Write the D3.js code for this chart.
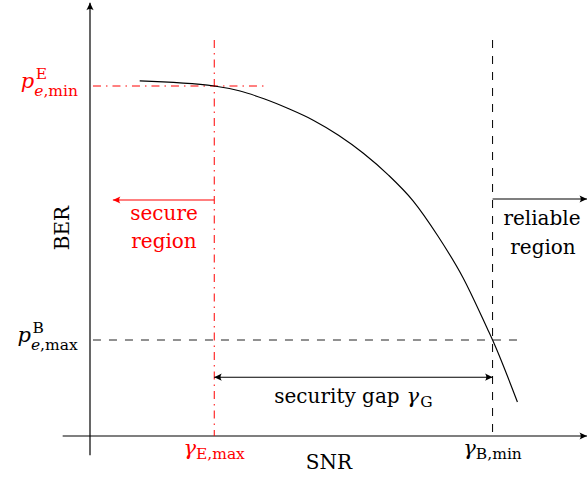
<!DOCTYPE html>
<html>
<head>
<meta charset="utf-8">
<script src="https://cdn.jsdelivr.net/npm/d3@7"></script>
<style>
  html, body { margin: 0; padding: 0; background: #fff; }
  svg { display: block; }
</style>
</head>
<body>
<svg id="chart" width="587" height="477"></svg>
<script>
// BER versus SNR curve (schematic units)
const snr = [1.0, 2.5, 3.0, 3.5, 4.0, 4.5, 5.0, 5.5, 6.0, 6.5, 7.0, 7.5, 8.0, 8.1, 8.6];
const ber = [8.88, 8.75, 8.63, 8.43, 8.18, 7.89, 7.52, 7.07, 6.53, 5.88, 5.0, 3.97, 2.67, 2.4, 0.85];

// Operating thresholds
const gammaE = 2.5;   // γ_E,max
const gammaB = 8.1;   // γ_B,min
const pE = 8.75;      // p^E_e,min
const pB = 2.4;       // p^B_e,max

// Label texts
const xTickSym = ["γ", "γ"];
const xTickSub = ["E,max", "B,min"];
const yTickSup = ["E", "B"];
const yTickSub = ["min", "max"];
const regionLabels = [["secure", "region"], ["reliable", "region"]];
const gapLabel = "security gap";
const axisTitles = ["SNR", "BER"];

const RED = "#ff0000";
const FS = 20, FS_SMALL = 15.5;
const FONT = "'DejaVu Serif', serif";

const svg = d3.select("#chart").attr("font-family", FONT);
const x = d3.scaleLinear().domain([0, 10]).range([90, 587]);
const y = d3.scaleLinear().domain([0, 10]).range([436, 36]);

// Arrow heads
const defs = svg.append("defs");
function arrowMarker(id, color) {
  defs.append("marker")
    .attr("id", id)
    .attr("markerUnits", "userSpaceOnUse")
    .attr("viewBox", "-8 -5 9 10")
    .attr("refX", 0).attr("refY", 0)
    .attr("markerWidth", 9).attr("markerHeight", 10)
    .attr("orient", "auto-start-reverse")
    .append("path")
    .attr("d", "M0,0 L-7.5,-3.6 Q-5,0 -7.5,3.6 Z")
    .attr("fill", color);
}
arrowMarker("arrK", "#000");
arrowMarker("arrR", RED);

function seg(x1, y1, x2, y2, opts) {
  const l = svg.append("line")
    .attr("x1", x1).attr("y1", y1).attr("x2", x2).attr("y2", y2)
    .attr("stroke", opts.color || "#000")
    .attr("stroke-width", opts.width || 1)
    .attr("fill", "none");
  if (opts.dash) l.attr("stroke-dasharray", opts.dash);
  if (opts.end) l.attr("marker-end", `url(#${opts.end})`);
  if (opts.start) l.attr("marker-start", `url(#${opts.start})`);
  return l;
}

const DASH = "8,8";
const DASHDOT = "8,5,1.5,5";

// Axes
seg(x(-0.55), y(0), x(10), y(0), { width: 1.2, end: "arrK" });
seg(x(0), y(-0.48), x(0), y(10.83), { width: 1.2, end: "arrK" });

// Threshold guides
seg(x(0.06), y(pE), x(3.55), y(pE), { color: RED, dash: DASHDOT, width: 1 });
seg(x(gammaE), y(9.9), x(gammaE), y(0), { color: RED, dash: DASHDOT, width: 1 });
seg(x(gammaB), y(9.9), x(gammaB), y(0), { dash: DASH, width: 1 });
seg(x(0.06), y(pB), x(8.6), y(pB), { dash: DASH, width: 1, color: "#222" });

// Curve
const line = d3.line()
  .x((d, i) => x(snr[i]))
  .y(d => y(d))
  .curve(d3.curveMonotoneX);
svg.append("path")
  .attr("d", line(ber))
  .attr("fill", "none")
  .attr("stroke", "#000")
  .attr("stroke-width", 1.15);

// Region arrows
const secureY = 5.9, reliableY = 5.925, gapY = 1.47;
seg(x(gammaE), y(secureY), x(0.46), y(secureY), { color: RED, width: 1.1, end: "arrR" });
seg(x(gammaB), y(reliableY), x(10), y(reliableY), { width: 1.1, end: "arrK" });
seg(x(gammaE), y(gapY), x(gammaB), y(gapY), { width: 1.1, start: "arrK", end: "arrK" });

// Plain text helper
function txt(str, px, py, color, anchor, size) {
  return svg.append("text")
    .attr("x", px).attr("y", py)
    .attr("font-family", FONT)
    .attr("fill", color || "#000")
    .attr("text-anchor", anchor || "middle")
    .attr("font-size", size || FS)
    .text(str);
}

// Math label in one text element: main symbol, optional superscript, subscript
function mathLabel(px, py, main, sup, sub, color, anchor, supDy, subDy) {
  const t = svg.append("text").attr("x", 0).attr("y", 0)
    .attr("font-family", FONT).attr("fill", color);
  const m = t.append("tspan").attr("font-size", FS + 1).attr("font-style", "italic").text(main);
  const w = m.node().getComputedTextLength();
  if (sup) {
    t.append("tspan").attr("x", w + 1.5).attr("y", supDy)
      .attr("font-size", FS_SMALL).text(sup);
  }
  let first = true;
  sub.forEach(([s, it]) => {
    const ts = t.append("tspan").attr("font-size", FS_SMALL)
      .attr("font-style", it ? "italic" : "normal").text(s);
    if (first) { ts.attr("x", w).attr("y", subDy); first = false; }
  });
  const bb = t.node().getBBox();
  let tx = px;
  if (anchor === "end") tx = px - (bb.x + bb.width);
  else if (anchor === "middle") tx = px - (bb.x + bb.width / 2);
  t.attr("transform", `translate(${tx},${py})`);
  return t;
}

// y-axis threshold labels
mathLabel(78, y(pE) + 2, "p", yTickSup[0], [["e", true], [",", false], [yTickSub[0], false]], RED, "end", -9, 8);
mathLabel(78, y(pB) + 2, "p", yTickSup[1], [["e", true], [",", false], [yTickSub[1], false]], "#000", "end", -9, 8);

// x-axis threshold labels
mathLabel(x(gammaE), 455, xTickSym[0], null, [[xTickSub[0], false]], RED, "middle", 0, 4);
mathLabel(x(gammaB), 455, xTickSym[1], null, [[xTickSub[1], false]], "#000", "middle", 0, 4);

// Axis titles
txt(axisTitles[0], 329, 469);
svg.append("text")
  .attr("transform", `translate(69,228) rotate(-90)`)
  .attr("font-family", FONT)
  .attr("text-anchor", "middle")
  .attr("font-size", FS)
  .text(axisTitles[1]);

// Region labels
txt(regionLabels[0][0], 164, 220, RED);
txt(regionLabels[0][1], 164, 248, RED);
txt(regionLabels[1][0], 542, 225);
txt(regionLabels[1][1], 543, 254);

// Security gap label
(function () {
  const t = svg.append("text").attr("x", 0).attr("y", 0)
    .attr("font-family", FONT).attr("font-size", FS);
  const a = t.append("tspan").text(gapLabel);
  const w = a.node().getComputedTextLength() + 7;
  const gm = t.append("tspan").attr("x", w).attr("font-size", FS + 1).attr("font-style", "italic").text("γ");
  const w2 = gm.node().getComputedTextLength();
  t.append("tspan").attr("x", w + w2 + 1).attr("y", 4).attr("font-size", FS_SMALL).text("G");
  const bb = t.node().getBBox();
  const cx = (x(gammaE) + x(gammaB)) / 2;
  t.attr("transform", `translate(${cx - (bb.x + bb.width / 2)},403)`);
})();
</script>
</body>
</html>
